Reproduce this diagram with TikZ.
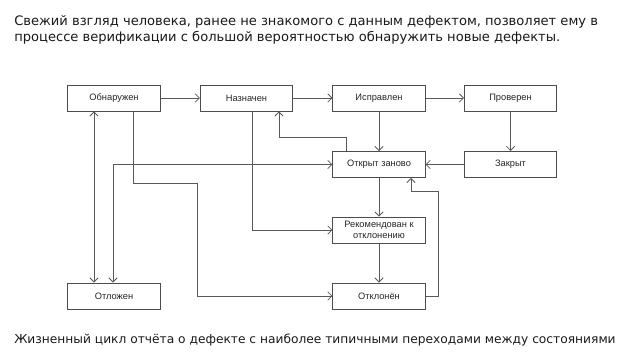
\documentclass[tikz,border=0pt]{standalone}
\usepackage{fontspec}
\setmainfont{DejaVu Sans}
\newfontfamily\boxfont{Liberation Sans}
\usepackage{tikz}
\usetikzlibrary{arrows.meta}

\tikzset{
	state/.style={draw=black!70, line width=0.7pt, fill=white, minimum width=2.3cm, minimum height=0.65cm, inner sep=1pt, align=center, font=\boxfont\fontsize{6.6}{7.6}\selectfont, text=black!85},
	conn/.style={draw=black!65, line width=0.55pt, -{Straight Barb[length=3pt, width=6pt]}},
	both/.style={conn, {Straight Barb[length=3pt, width=6pt]}-{Straight Barb[length=3pt, width=6pt]}},
	prose/.style={anchor=base west, inner sep=0pt, font=\fontsize{9.3}{11}\selectfont, text=black!90}
}

\begin{document}
\begin{tikzpicture}[x=0.025cm, y=-0.025cm]

		\useasboundingbox (0,0) rectangle (640,360);

		% Column and row positions (pixels)
		\def\xA{114}
		\def\xB{246.5}
		\def\xC{379}
		\def\xD{510.5}

		\def\yone{98}
		\def\ytwo{164.5}
		\def\ythree{230}
		\def\yfour{296}

		% --- Texts ---
		\node[prose] (head1) at (14,25.5) {Свежий взгляд человека, ранее не знакомого с данным дефектом, позволяет ему в};
		\node[prose] (head2) at (14,41.5) {процессе верификации с большой вероятностью обнаружить новые дефекты.};
		\node[prose, font=\fontsize{8.7}{11}\selectfont] (caption) at (14,343.5)
			{Жизненный цикл отчёта о дефекте с наиболее типичными переходами между состояниями};

		% --- States ---
		\node[state] (obn) at (\xA, \yone) {Обнаружен};
		\node[state] (naz) at (\xB, \yone) {Назначен};
		\node[state] (isp) at (\xC, \yone) {Исправлен};
		\node[state] (prv) at (\xD, \yone) {Проверен};

		\node[state] (otk) at (\xC, \ytwo) {Открыт заново};
		\node[state] (zak) at (\xD, \ytwo) {Закрыт};

		\node[state] (rek) at (\xC, \ythree) {Рекомендован к\\отклонению};

		\node[state] (otl) at (\xA, \yfour) {Отложен};
		\node[state] (otkl) at (\xC, \yfour) {Отклонён};

		% --- Bend points ---
		\coordinate (k1) at (346,137);
		\coordinate (k2) at (279,137);
		\coordinate (k3) at (252,230);
		\coordinate (k4) at (133,183);
		\coordinate (k5) at (197,183);
		\coordinate (k6) at (94,0);
		\coordinate (k7) at (113,0);
		\coordinate (k8) at (438,191);
		\coordinate (k9) at (411,191);

		% --- Transitions ---
		\draw[conn] (obn) -- (naz);
		\draw[conn] (naz) -- (isp);
		\draw[conn] (isp) -- (prv);
		\draw[conn] (isp) -- (otk);
		\draw[conn] (prv) -- (zak);
		\draw[conn] (zak) -- (otk);
		\draw[conn] (otk) -- (rek);
		\draw[conn] (rek) -- (otkl);

		\draw[conn] (otk.north -| k1) -- (k1) -- (k2) -- (naz.south -| k2);
		\draw[conn] (naz.south -| k3) |- (rek.west);
		\draw[conn] (obn.south -| k4) -- (k4) -- (k5) |- (otkl.west);
		\draw[both] (obn.south -| k6) -- (otl.north -| k6);
		\draw[both] (otl.north -| k7) |- (otk.west);
		\draw[conn] (otkl.east) -| (k8) -- (k9) -- (otk.south -| k9);

	\end{tikzpicture}
\end{document}
